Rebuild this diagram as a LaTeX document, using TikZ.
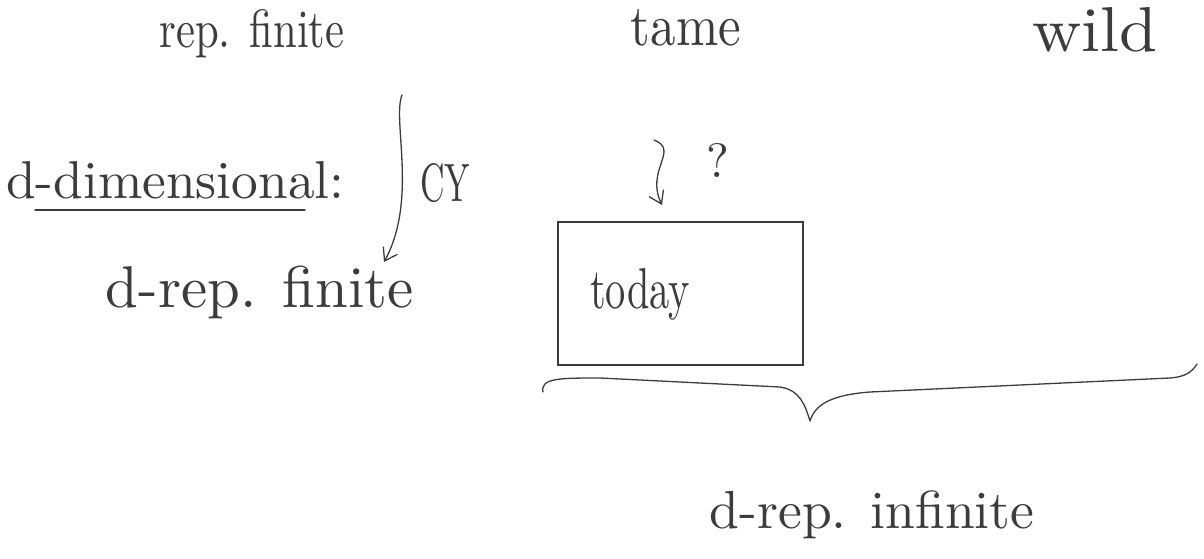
\documentclass[tikz,border=0pt]{standalone}
\usetikzlibrary{arrows.meta}
\definecolor{ink}{RGB}{60,60,60}
\newcommand{\fitw}[2]{\resizebox{#1}{!}{#2}}
\newcommand{\fitwh}[3]{\resizebox{#1}{#2}{#3}}
\tikzset{
  hw/.style={text=ink, inner sep=0pt},
  stroke/.style={draw=ink, line width=1.3pt, line cap=round, line join=round},
  arr/.style={stroke, -{Straight Barb[length=12pt,width=16pt]}}
}
\begin{document}
\begin{tikzpicture}[x=1pt,y=-1pt]
\useasboundingbox (0,0) rectangle (1204,559);
% headers
\node[hw] (rf) at (252,34) {\fitwh{185pt}{38pt}{rep. finite}};
\node[hw] (tame) at (686,28) {\fitwh{110pt}{36pt}{tame}};
\node[hw] (wild) at (1095,30) {\fitwh{125pt}{44pt}{wild}};
% d-dimensional
\node[hw, anchor=west] (dd) at (6,180) {\fitw{338pt}{d-dimensional:}};
\coordinate (ul1) at (35,210);
\coordinate (ul2) at (305,210);
\draw[stroke] (ul1) -- (ul2);
\node[hw] (drf) at (260,292) {\fitw{308pt}{d-rep. finite}};
% CY arrow
\coordinate (cyt) at (402,95);
\coordinate (cyb) at (384,262);
\draw[arr] (cyt) .. controls (392,120) and (418,200) .. (cyb);
\node[hw] (cy) at (445,183) {\fitwh{50pt}{38pt}{CY}};
% question arrow
\coordinate (qt) at (654,140);
\coordinate (qb) at (662,205);
\draw[arr] (qt) .. controls (680,150) and (645,170) .. (qb);
\node[hw] (q) at (718,160) {\resizebox{!}{34pt}{?}};
% box
\node[draw=ink, line width=2pt, minimum width=245pt, minimum height=143pt, inner sep=0pt] (box) at (680,293) {};
\node[hw] (today) at (640,294) {\fitwh{100pt}{40pt}{today}};
% brace
\coordinate (bl) at (543,392);
\coordinate (bm) at (810,421);
\coordinate (br) at (1197,364);
\draw[stroke] (bl) .. controls (540,378) and (560,378) .. (600,378)
  -- (780,387) .. controls (800,390) and (805,405) .. (bm)
  .. controls (815,405) and (830,395) .. (870,392)
  -- (1170,378) .. controls (1185,377) and (1192,372) .. (br);
\node[hw] (dri) at (872,515) {\fitw{325pt}{d-rep. infinite}};
\end{tikzpicture}
\end{document}
